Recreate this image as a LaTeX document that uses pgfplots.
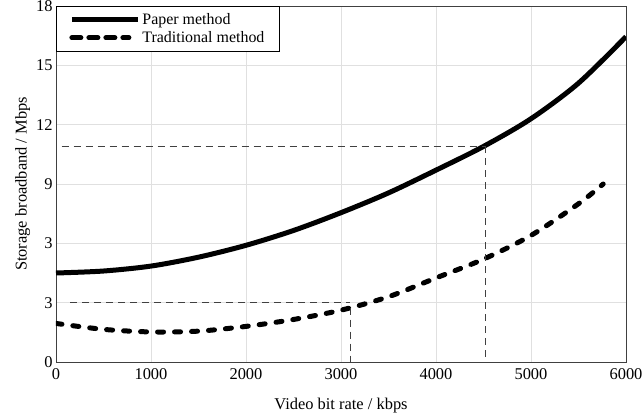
\documentclass[border=0pt]{standalone}
\usepackage{pgfplots}
\pgfplotsset{compat=1.18}
\usepackage{fontspec}
\setmainfont{Liberation Serif}
\begin{document}
\begin{tikzpicture}[font=\fontsize{16.5}{19}\selectfont]
\begin{axis}[
  scale only axis,
  width=570bp, height=356bp,
  xmin=0, xmax=6000, ymin=0, ymax=18,
  xtick={0,1000,2000,3000,4000,5000,6000},
  ytick={0,3,6,9,12,15,18},
  yticklabels={0,3,3,9,12,15,18},
  /pgf/number format/assume math mode=true,
  scaled x ticks=false,
  xticklabel style={/pgf/number format/1000 sep={}, yshift=-3bp},
  major tick length=0pt,
  grid=major,
  major grid style={draw=black!12, line width=0.8pt},
  axis line style={draw=black!75, line width=0.8pt},
  xlabel={Video bit rate / kbps},
  ylabel={Storage broadband / Mbps},
  xlabel style={yshift=-12bp},
  ylabel style={yshift=-1pt},
  legend style={at={(0,1)}, anchor=north west, draw=black, line width=0.8pt,
    inner xsep=13bp, inner ysep=5bp, row sep=1.5bp, cells={anchor=west},
    font=\fontsize{16}{18}\selectfont},
  legend image code/.code={\path (0bp,0bp) -- (66bp,0bp); \draw[#1] (3bp,0bp) -- (56bp,0bp);},
  legend cell align=left,
]
\addplot[black, line width=5bp, smooth] coordinates {
 (0,4.5) (500,4.6) (1000,4.85) (1500,5.3) (2000,5.9) (2500,6.65) (3000,7.55)
 (3500,8.55) (4000,9.7) (4500,10.9) (5000,12.3) (5500,14.1) (6000,16.45)};
\addlegendentry{Paper method}
\addplot[black, line width=5bp, line cap=round, dash pattern=on 6bp off 11bp, smooth] coordinates {
 (0,1.95) (500,1.65) (1000,1.52) (1500,1.56) (2000,1.8) (2500,2.15) (3000,2.62)
 (3500,3.3) (4000,4.25) (4500,5.2) (5000,6.4) (5500,8.0) (5760,9.0)};
\addlegendentry{Traditional method}
\addplot[black!75, line width=0.8pt, dash pattern=on 7bp off 5bp, forget plot] coordinates {(150,3) (3100,3)};
\addplot[black!75, line width=0.8pt, dash pattern=on 7bp off 5bp, forget plot] coordinates {(3100,2.75) (3100,0)};
\addplot[black!75, line width=0.8pt, dash pattern=on 7bp off 5bp, forget plot] coordinates {(60,10.9) (4520,10.9)};
\addplot[black!75, line width=0.8pt, dash pattern=on 7bp off 5bp, forget plot] coordinates {(4520,10.9) (4520,0)};
\end{axis}
\pgfresetboundingbox
\path (current axis.south west) ++(-56bp,-54bp) rectangle ++(643bp,416bp);
\end{tikzpicture}
\end{document}
